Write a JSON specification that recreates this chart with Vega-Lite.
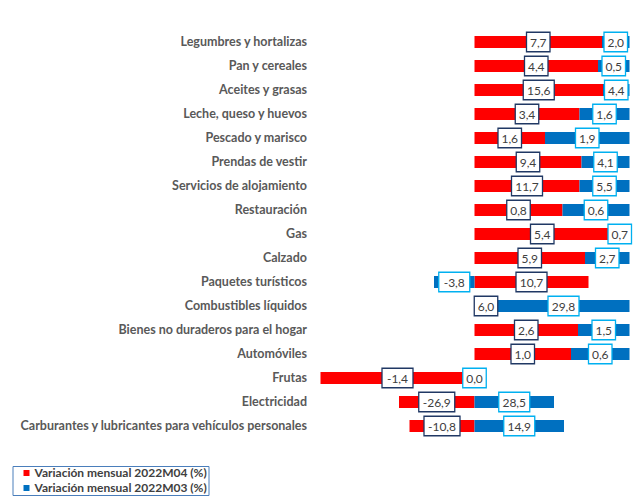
{
  "width": 315,
  "height": 408,
  "autosize": {"type": "none"},
  "padding": {"left": 314.5, "top": 30, "right": 13.5, "bottom": 61},
  "background": "white",
  "config": {"view": {"stroke": null}, "font": "Lato"},
  "data": {
    "values": [
      {"cat": "Legumbres y hortalizas", "serie": "Variación mensual 2022M04 (%)", "v": 25.5, "label": "7,7"},
      {"cat": "Legumbres y hortalizas", "serie": "Variación mensual 2022M03 (%)", "v": 40, "label": "2,0"},
      {"cat": "Pan y cereales", "serie": "Variación mensual 2022M04 (%)", "v": 24.7, "label": "4,4"},
      {"cat": "Pan y cereales", "serie": "Variación mensual 2022M03 (%)", "v": 40, "label": "0,5"},
      {"cat": "Aceites y grasas", "serie": "Variación mensual 2022M04 (%)", "v": 25.7, "label": "15,6"},
      {"cat": "Aceites y grasas", "serie": "Variación mensual 2022M03 (%)", "v": 40, "label": "4,4"},
      {"cat": "Leche, queso y huevos", "serie": "Variación mensual 2022M04 (%)", "v": 21.0, "label": "3,4"},
      {"cat": "Leche, queso y huevos", "serie": "Variación mensual 2022M03 (%)", "v": 40, "label": "1,6"},
      {"cat": "Pescado y marisco", "serie": "Variación mensual 2022M04 (%)", "v": 14.1, "label": "1,6"},
      {"cat": "Pescado y marisco", "serie": "Variación mensual 2022M03 (%)", "v": 40, "label": "1,9"},
      {"cat": "Prendas de vestir", "serie": "Variación mensual 2022M04 (%)", "v": 21.4, "label": "9,4"},
      {"cat": "Prendas de vestir", "serie": "Variación mensual 2022M03 (%)", "v": 40, "label": "4,1"},
      {"cat": "Servicios de alojamiento", "serie": "Variación mensual 2022M04 (%)", "v": 21.0, "label": "11,7"},
      {"cat": "Servicios de alojamiento", "serie": "Variación mensual 2022M03 (%)", "v": 40, "label": "5,5"},
      {"cat": "Restauración", "serie": "Variación mensual 2022M04 (%)", "v": 17.6, "label": "0,8"},
      {"cat": "Restauración", "serie": "Variación mensual 2022M03 (%)", "v": 40, "label": "0,6"},
      {"cat": "Gas", "serie": "Variación mensual 2022M04 (%)", "v": 27.1, "label": "5,4"},
      {"cat": "Gas", "serie": "Variación mensual 2022M03 (%)", "v": 40, "label": "0,7"},
      {"cat": "Calzado", "serie": "Variación mensual 2022M04 (%)", "v": 22.1, "label": "5,9"},
      {"cat": "Calzado", "serie": "Variación mensual 2022M03 (%)", "v": 40, "label": "2,7"},
      {"cat": "Paquetes turísticos", "serie": "Variación mensual 2022M04 (%)", "v": 22.8, "label": "10,7"},
      {"cat": "Paquetes turísticos", "serie": "Variación mensual 2022M03 (%)", "v": -8.1, "label": "-3,8"},
      {"cat": "Combustibles líquidos", "serie": "Variación mensual 2022M04 (%)", "v": 4.6, "label": "6,0"},
      {"cat": "Combustibles líquidos", "serie": "Variación mensual 2022M03 (%)", "v": 40, "label": "29,8"},
      {"cat": "Bienes no duraderos para el hogar", "serie": "Variación mensual 2022M04 (%)", "v": 20.7, "label": "2,6"},
      {"cat": "Bienes no duraderos para el hogar", "serie": "Variación mensual 2022M03 (%)", "v": 40, "label": "1,5"},
      {"cat": "Automóviles", "serie": "Variación mensual 2022M04 (%)", "v": 19.3, "label": "1,0"},
      {"cat": "Automóviles", "serie": "Variación mensual 2022M03 (%)", "v": 40, "label": "0,6"},
      {"cat": "Frutas", "serie": "Variación mensual 2022M04 (%)", "v": -30.8, "label": "-1,4"},
      {"cat": "Frutas", "serie": "Variación mensual 2022M03 (%)", "v": 0, "label": "0,0"},
      {"cat": "Electricidad", "serie": "Variación mensual 2022M04 (%)", "v": -15.1, "label": "-26,9"},
      {"cat": "Electricidad", "serie": "Variación mensual 2022M03 (%)", "v": 15.9, "label": "28,5"},
      {"cat": "Carburantes y lubricantes para vehículos personales", "serie": "Variación mensual 2022M04 (%)", "v": -13.0, "label": "-10,8"},
      {"cat": "Carburantes y lubricantes para vehículos personales", "serie": "Variación mensual 2022M03 (%)", "v": 17.9, "label": "14,9"}
    ]
  },
  "transform": [
    {"window": [{"op": "first_value", "field": "v", "as": "red"}], "groupby": ["cat"], "sort": [{"field": "serie", "order": "descending"}], "frame": [null, null]},
    {"calculate": "datum.serie === 'Variación mensual 2022M04 (%)' ? 0 : (datum.v * datum.red > 0 ? datum.red : 0)", "as": "v0"},
    {"calculate": "datum.v0 + datum.v", "as": "v1"},
    {"calculate": "(clamp(datum.v0, -32, 31) + clamp(datum.v1, -32, 31)) / 2", "as": "mid"},
    {"calculate": "length(datum.label) <= 3 ? 2.35 : (length(datum.label) == 4 ? 3.1 : 3.6)", "as": "hw"},
    {"calculate": "datum.mid - datum.hw", "as": "bx0"},
    {"calculate": "datum.mid + datum.hw", "as": "bx1"}
  ],
  "encoding": {
    "y": {
      "field": "cat", "type": "nominal", "sort": null,
      "scale": {"paddingInner": 0.5, "paddingOuter": 0.25},
      "axis": {
        "title": null, "ticks": false, "domain": false, "labelPadding": 8,
        "labelFont": "Lato", "labelFontWeight": "bold", "labelFontSize": 12.5,
        "labelColor": "#595959", "labelLimit": 400
      }
    }
  },
  "layer": [
    {
      "mark": {"type": "bar", "clip": true},
      "encoding": {
        "x": {
          "field": "v0", "type": "quantitative",
          "scale": {"domain": [-32, 31], "nice": false, "zero": false},
          "axis": null
        },
        "x2": {"field": "v1"},
        "color": {
          "field": "serie", "type": "nominal",
          "scale": {
            "domain": ["Variación mensual 2022M04 (%)", "Variación mensual 2022M03 (%)"],
            "range": ["#FF0000", "#0070C0"]
          },
          "legend": {
            "title": null, "orient": "none", "legendX": -302, "legendY": 436,
            "direction": "vertical", "strokeColor": "#4A7EBB", "padding": 1,
            "rowPadding": 3, "symbolOffset": 7, "labelOffset": 2,
            "symbolType": "square", "symbolSize": 36, "symbolStrokeWidth": 0,
            "labelFont": "Lato", "labelFontWeight": "bold", "labelFontSize": 12,
            "labelColor": "#404040", "labelLimit": 300
          }
        }
      }
    },
    {
      "transform": [{"filter": "datum.serie === 'Variación mensual 2022M04 (%)'"}],
      "mark": {"type": "bar", "fill": "white", "stroke": "#203864", "strokeWidth": 1.3, "size": 19.5},
      "encoding": {
        "x": {"field": "bx0", "type": "quantitative"},
        "x2": {"field": "bx1"}
      }
    },
    {
      "transform": [{"filter": "datum.serie === 'Variación mensual 2022M03 (%)'"}],
      "mark": {"type": "bar", "fill": "white", "stroke": "#00B0F0", "strokeWidth": 1.3, "size": 19.5},
      "encoding": {
        "x": {"field": "bx0", "type": "quantitative"},
        "x2": {"field": "bx1"}
      }
    },
    {
      "mark": {"type": "text", "font": "Lato", "fontSize": 12, "color": "#404040", "align": "center", "baseline": "middle", "dy": 1},
      "encoding": {
        "x": {"field": "mid", "type": "quantitative"},
        "text": {"field": "label"}
      }
    }
  ]
}
